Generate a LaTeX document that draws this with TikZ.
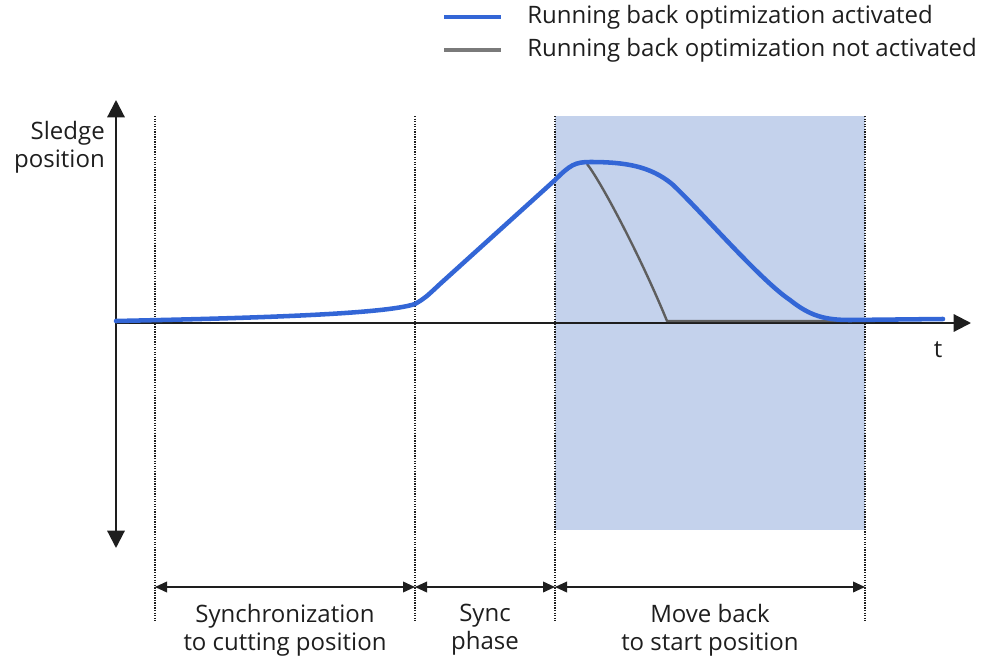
\documentclass[tikz,border=0pt]{standalone}
\usepackage{fontspec}
\setmainfont{Open Sans}
\usetikzlibrary{arrows.meta}
\definecolor{curveblue}{HTML}{3366D6}
\definecolor{curvegray}{HTML}{5E5E5E}
\definecolor{legendgray}{HTML}{7A7A7A}
\definecolor{bandblue}{HTML}{C4D2EC}
\definecolor{inkdark}{HTML}{1E1E1E}
\begin{document}
\begin{tikzpicture}[x=0.75pt,y=-0.75pt,
  txt/.style={font=\fontsize{18}{21}\selectfont, text=inkdark, inner sep=0pt},
  axisline/.style={draw=inkdark, line width=1.6pt, -{Triangle[length=13pt,width=13pt]}},
  divider/.style={draw=inkdark, line width=1.5pt, dash pattern=on 1pt off 0.9pt},
  span/.style={draw=inkdark, line width=1.2pt, {Triangle[length=9pt,width=8pt]}-{Triangle[length=9pt,width=8pt]}},
  bluecurve/.style={draw=curveblue, line width=3.4pt, line cap=round, line join=round},
  graycurve/.style={draw=curvegray, line width=1.8pt, line join=round}]
\useasboundingbox (0,0) rectangle (993,657);
% shaded region
\fill[bandblue] (555,116) rectangle (865,530);
% dividers
\foreach \n/\x in {a/155,b/415,c/555,d/865}{
  \coordinate (top\n) at (\x,116);
  \coordinate (bot\n) at (\x,622);
  \coordinate (mid\n) at (\x,587);
  \draw[divider] (top\n) -- (bot\n);
}
% axes
\coordinate (origin) at (116,323);
\coordinate (ytop) at (116,100);
\coordinate (ybot) at (116,548);
\coordinate (xend) at (971,323);
\draw[axisline] (origin) -- (ytop);
\draw[axisline] (origin) -- (ybot);
\draw[axisline] (origin) -- (xend);
% gray curve
\draw[graycurve] (587,164) .. controls (600,180) and (640,255) .. (667,321) -- (865,321);
% blue curve
\draw[bluecurve] (116,321) .. controls (260,318) and (385,314) .. (415,304)
  .. controls (425,298) .. (440,284) -- (555,180)
  .. controls (570,165) and (575,162) .. (590,162)
  .. controls (625,162) and (650,166) .. (672,184)
  .. controls (700,210) and (760,280) .. (790,300)
  .. controls (810,316) and (825,320) .. (850,320) -- (943,319);
% labels
\node[txt, anchor=base] (tlab) at (938,357) {t};
\node[txt, anchor=east, align=right] (ylab) at (105,147) {Sledge\\position};
% spans
\draw[span] (mida) -- (midb);
\draw[span] (midb) -- (midc);
\draw[span] (midc) -- (midd);
\node[txt, align=center, anchor=north] (s1) at (285,604) {Synchronization\\to cutting position};
\node[txt, align=center, anchor=north] (s2) at (485,604) {Sync\\phase};
\node[txt, align=center, anchor=north] (s3) at (710,604) {Move back\\to start position};
% legend
\coordinate (l1a) at (444,17); \coordinate (l1b) at (501,17);
\coordinate (l2a) at (444,50); \coordinate (l2b) at (501,50);
\draw[draw=curveblue, line width=3.2pt] (l1a) -- (l1b);
\draw[draw=legendgray, line width=2.4pt] (l2a) -- (l2b);
\node[txt, anchor=west] (leg1) at (527,17) {Running back optimization activated};
\node[txt, anchor=west] (leg2) at (527,50) {Running back optimization not activated};
\end{tikzpicture}
\end{document}
